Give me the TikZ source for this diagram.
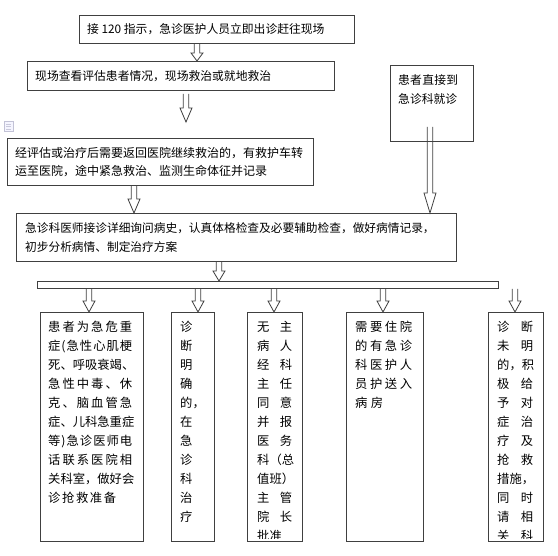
\documentclass[tikz,border=0pt]{standalone}
\usepackage{fontspec}
\newfontfamily\cjk{Noto Sans CJK SC}
\usetikzlibrary{calc}
\def\jlloop#1{\ifx#1\relax\else#1\hfil\expandafter\jlloop\fi}
\newcommand\jl[2]{\hbox to #1{\expandafter\jlloop#2\relax\unskip}}
\newcommand\harrow[3]{%
  \draw[arr] let \p1=(#1), \p2=(#2) in
    (\x1-2.8pt,\y1) -- (\x1-2.8pt,\y2+#3) -- (\x1-6pt,\y2+#3) -- (\x1,\y2)
    -- (\x1+6pt,\y2+#3) -- (\x1+2.8pt,\y2+#3) -- (\x1+2.8pt,\y1);}
\begin{document}
\begin{tikzpicture}[x=1pt,y=-1pt,
  box/.style={draw=black!75, line width=0.9pt, inner sep=0pt, anchor=north west},
  tx/.style={inner sep=0pt, anchor=west, align=left},
  ln/.style={inner sep=0pt, anchor=base west, font=\cjk\fontsize{12.3}{14}\selectfont},
  arr/.style={draw=black!75, line width=0.8pt}]
\useasboundingbox[fill=white] (0,0) rectangle (558,556);

% top boxes
\node[box, minimum width=275pt, minimum height=28pt] (b1) at (79,15) {};
\node[tx, font=\cjk\fontsize{11.8}{18.5}\selectfont] (t1) at ([xshift=8pt]b1.west) {接 120 指示，急诊医护人员立即出诊赶往现场};
\node[box, minimum width=307pt, minimum height=29pt] (b2) at (27,61) {};
\node[tx, font=\cjk\fontsize{11.8}{18.5}\selectfont] (t2) at ([xshift=8pt]b2.west) {现场查看评估患者情况，现场救治或就地救治};
\node[box, minimum width=306pt, minimum height=47pt] (b3) at (7,138) {};
\node[tx, font=\cjk\fontsize{12}{18.5}\selectfont] (t3) at ([xshift=8pt]b3.west) {经评估或治疗后需要返回医院继续救治的，有救护车转\\运至医院，途中紧急救治、监测生命体征并记录};
\node[box, minimum width=440pt, minimum height=48pt] (b4) at (16,213) {};
\node[tx, font=\cjk\fontsize{11.7}{19}\selectfont] (t4) at ([xshift=9pt]b4.west) {急诊科医师接诊详细询问病史，认真体格检查及必要辅助检查，做好病情记录，\\初步分析病情、制定治疗方案};
\node[box, minimum width=83pt, minimum height=76pt] (rb) at (390,65) {};
\node[inner sep=0pt, anchor=north west, align=left, font=\cjk\fontsize{11.8}{19}\selectfont] (rt) at (398,74) {\jl{60pt}{患者直接到}\\急诊科就诊};

% bar
\node[box, minimum width=461pt, minimum height=7pt] (bar) at (37,281) {};

% bottom boxes
\node[box, minimum width=103pt, minimum height=229pt] (ba) at (40,312) {};
\node[box, minimum width=43pt, minimum height=229pt] (bb) at (171,312) {};
\node[box, minimum width=55pt, minimum height=229pt] (bc) at (247,312) {};
\node[box, minimum width=77pt, minimum height=229pt] (bd) at (346,312) {};
\node[box, minimum width=55pt, minimum height=229pt] (be) at (488,312) {};

\begin{scope}
\clip (ba.north west) rectangle (ba.south east);
\foreach \w/\s [count=\i from 0] in {84pt/患者为急危重, 84pt/症(急性心肌梗, 84pt/死、呼吸衰竭、, 84pt/急性中毒、休, 84pt/克、脑血管急, 84pt/症、儿科急重症, 84pt/等)急诊医师电, 84pt/话联系医院相, 84pt/关科室，做好会, 68pt/诊抢救准备}
  {\node[ln] (la\i) at (48,331.5+19*\i) {\jl{\w}{\s}};}
\end{scope}
\begin{scope}
\clip (bb.north west) rectangle (bb.south east);
\foreach \s [count=\i from 0] in {诊,断,明,确,的，,在,急,诊,科,治,疗}
  {\node[ln] (lb\i) at (180,331.5+19*\i) {\s};}
\end{scope}
\begin{scope}
\clip (bc.north west) rectangle ($(bc.south east)+(0,-3)$);
\foreach \w/\s [count=\i from 0] in {35pt/无主, 35pt/病人, 35pt/经科, 35pt/主任, 35pt/同意, 35pt/并报, 35pt/医务, 35pt/科（总, 36pt/值班）, 35pt/主管, 35pt/院长, 24pt/批准}
  {\node[ln] (lc\i) at (257,331.5+19*\i) {\jl{\w}{\s}};}
\end{scope}
\begin{scope}
\clip (bd.north west) rectangle (bd.south east);
\foreach \w/\s [count=\i from 0] in {57pt/需要住院, 57pt/的有急诊, 57pt/科医护人, 57pt/员护送入, 28pt/病房}
  {\node[ln] (ld\i) at (355,331.5+19*\i) {\jl{\w}{\s}};}
\end{scope}
\begin{scope}
\clip (be.north west) rectangle ($(be.south east)+(0,-3)$);
\foreach \w/\s [count=\i from 0] in {36pt/诊断, 36pt/未明, 36pt/的，积, 36pt/极给, 36pt/予对, 36pt/症治, 36pt/疗及, 36pt/抢救, 36pt/措施，, 36pt/同时, 36pt/请相, 36pt/关科}
  {\node[ln] (le\i) at (497,331.5+19*\i) {\jl{\w}{\s}};}
\end{scope}

% redraw bottom box outlines on top
\foreach \nn in {ba,bb,bc,bd,be}
  {\draw[draw=black!75, line width=0.9pt] (\nn.north west) rectangle (\nn.south east);}

% arrows
\coordinate (x1) at (197,0);
\coordinate (x2) at (186,0);
\coordinate (x3) at (134,0);
\coordinate (x4) at (219,0);
\coordinate (rs) at (430,127);
\coordinate (xa) at (89,0);
\coordinate (xb) at (198,0);
\coordinate (xc) at (274,0);
\coordinate (xd) at (383,0);
\coordinate (xe) at (515,0);
\harrow{b1.south -| x1}{b2.north -| x1}{8pt}
\harrow{$(b2.south -| x2)+(0,3)$}{$(b3.north -| x2)+(0,-16)$}{14pt}
\harrow{b3.south -| x3}{b4.north -| x3}{14pt}
\harrow{rs}{b4.north -| rs}{20pt}
\harrow{b4.south -| x4}{bar.north -| x4}{10pt}
\foreach \cc/\nn in {xa/ba, xb/bb, xc/bc, xd/bd, xe/be}
  {\harrow{bar.south -| \cc}{\nn.north -| \cc}{11pt}}

% small faded icon
\draw[blue!20!gray!40, fill=blue!4, line width=0.5pt] (4,121) rectangle (13,131);
\draw[blue!20!gray!35, line width=0.5pt] (6,124) -- (11,124) (6,126.5) -- (11,126.5) (6,129) -- (11,129);
\end{tikzpicture}
\end{document}
